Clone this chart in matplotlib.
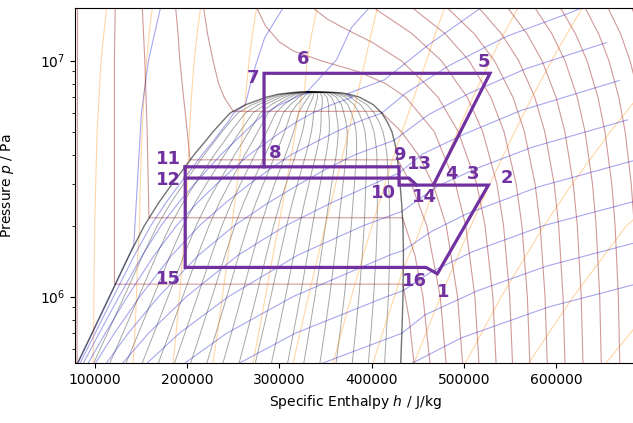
import numpy as np
import matplotlib.pyplot as plt

# ---------------- CO2 saturation dome ----------------
# pressure in MPa, enthalpy in kJ/kg, entropy in kJ/kgK, density in kg/m3
sat_p = [0.518, 0.7, 1.0, 1.5, 2.0, 2.5, 3.0, 3.5, 4.0, 4.5, 5.0, 5.5, 6.0, 6.5, 7.0, 7.2, 7.3, 7.35, 7.377]
sat_hl = [80.5, 96.6, 115.5, 137, 153.5, 169, 183.5, 196.5, 207.5, 218.5, 228, 237.5, 246.5, 263, 285.7, 298, 310, 318, 330]
sat_hv = [431.5, 432.8, 434, 434.5, 434, 432.5, 430.8, 429, 427.7, 425, 422, 417, 411, 402, 387, 376, 368, 355, 330]
sat_sl = [0.52, 0.592, 0.674, 0.762, 0.826, 0.884, 0.937, 0.983, 1.021, 1.058, 1.089, 1.12, 1.148, 1.201, 1.274, 1.314, 1.353, 1.379, 1.418]
sat_sv = [2.14, 2.094, 2.04, 1.978, 1.932, 1.893, 1.861, 1.834, 1.812, 1.787, 1.764, 1.736, 1.705, 1.667, 1.61, 1.571, 1.544, 1.501, 1.418]
sat_rhol = [1178, 1152, 1117, 1074, 1030, 992, 955, 926, 895, 862, 830, 795, 750, 705, 640, 596, 565, 530, 467.6]
sat_rhov = [13.8, 18.2, 26.0, 39.0, 53.0, 68, 83, 98, 114, 135, 156, 180, 210, 246, 300, 334, 365, 405, 467.6]

quality_levels = [0.05, 0.1, 0.15, 0.2, 0.25, 0.3, 0.35, 0.4, 0.45, 0.5,
                  0.55, 0.6, 0.65, 0.7, 0.75, 0.8, 0.85, 0.9, 0.95]

# ---------------- isotherms 216 K ... 536 K (step 20 K) ----------------
isotherm_h = [
    [81, 80.5],
    [122, 121, 121, 434, 440.8, 446.5],
    [151, 154, 156.5, 158.5, 433.5, 446.9, 455.7, 463.8],
    [187, 190, 192, 196, 200, 203, 428.2, 443, 459.8, 474.4, 481.2],
    [217, 222, 228, 234, 240, 249.8, 409.5, 432.3, 450.4, 466.6, 480.9, 493.2, 499],
    [273, 285, 300, 315, 345, 385, 415, 437, 468, 491, 502, 512, 516.7],
    [330, 352, 366, 382, 400, 432, 458, 472, 494, 514, 523, 531.5, 535.2],
    [395, 444, 475.6, 503.7, 520.5, 535.9, 543.1, 549.8, 553],
    [438, 479.8, 505.7, 529.3, 543.6, 556.8, 563, 568.9, 571.8],
    [477, 511.3, 533.2, 553.3, 565.7, 577.3, 582.8, 588.1, 590.7],
    [512, 540.8, 559.5, 576.9, 587.8, 598, 602.9, 607.6, 609.9],
    [544, 568.5, 584.8, 600, 609.6, 618.7, 623.1, 627.3, 629.4],
    [574, 595.5, 609.7, 623, 631.5, 639.6, 643.5, 647.4, 649.2],
    [602, 621.1, 633.6, 645.5, 653.1, 660.5, 664.1, 667.6, 669.3],
    [629, 646.2, 657.4, 668.1, 675, 681.6, 684.9, 688.1, 689.7],
    [654, 670, 680.3, 690.2, 696.5],
    [680, 694, 703.4],
]
isotherm_p = [
    [17.5, 0.518],
    [17.5, 10, 1.13, 1.13, 0.8, 0.5],
    [17.5, 10, 5, 2.16, 2.16, 1.5, 1.0, 0.5],
    [17.5, 13, 10, 7, 5, 3.8, 3.8, 3.0, 2.0, 1.0, 0.5],
    [17.5, 13, 10, 8, 7, 6.1, 6.1, 5, 4, 3, 2, 1, 0.5],
    [17.5, 14, 12, 11, 10, 9, 8, 7, 5, 3, 2, 1, 0.5],
    [17.5, 15, 14, 13, 12, 10, 8, 7, 5, 3, 2, 1, 0.5],
    [17.5, 13, 10, 7, 5, 3, 2, 1, 0.5],
    [17.5, 13, 10, 7, 5, 3, 2, 1, 0.5],
    [17.5, 13, 10, 7, 5, 3, 2, 1, 0.5],
    [17.5, 13, 10, 7, 5, 3, 2, 1, 0.5],
    [17.5, 13, 10, 7, 5, 3, 2, 1, 0.5],
    [17.5, 13, 10, 7, 5, 3, 2, 1, 0.5],
    [17.5, 13, 10, 7, 5, 3, 2, 1, 0.5],
    [17.5, 13, 10, 7, 5, 3, 2, 1, 0.5],
    [17.5, 13, 10, 7, 5],
    [17.5, 13, 10],
]

# ---------------- isentropes (part outside the dome) ----------------
s_levels = [0.6, 0.8, 1.0, 1.2, 1.4, 1.6, 1.8, 2.0, 2.2, 2.4, 2.6, 2.8]
isentrope_h = [
    [113, 106.5, 102.2, 99.6, 98.7, 98.5],
    [162.8, 158.6, 155.8, 153, 151, 149, 148],
    [215.2, 210.7, 207.6, 204.5, 202.4, 201],
    [276, 270.8, 267, 263.2, 262.7],
    [342, 335, 330, 327],
    [407.5, 399.5, 393, 384],
    [481, 469, 459.5, 451, 440, 426.4],
    [561.4, 538.6, 522, 502, 488, 469, 450, 434.3],
    [631.6, 611.8, 595.2, 574, 555.2, 528.2, 507.7, 474.7, 444],
    [688.8, 659, 617.5, 587, 540.6, 499],
    [700, 676.4, 618.7, 567],
    [713, 650],
]
isentrope_p = [
    [17.5, 10, 5, 2, 1, 0.73],
    [17.5, 13, 10, 7, 5, 3, 1.83],
    [17.5, 13, 10, 7, 5, 3.7],
    [17.5, 13, 10, 7, 6.49],
    [17.5, 13, 10, 7.36],
    [17.5, 13, 10, 7.05],
    [17.5, 13, 10, 8, 6, 4.24],
    [17.5, 12, 8.87, 6, 4.5, 3.0, 1.8, 1.32],
    [17.5, 13, 10, 7, 5, 3, 2, 1, 0.5],
    [7, 5, 3, 2, 1, 0.5],
    [2.4, 2, 1, 0.5],
    [1, 0.5],
]

# ---------------- isochores (part outside the dome) ----------------
rho_levels = [12.2, 18.3, 27.5, 41, 62, 93, 139, 209, 313, 470, 705, 1058]
isochore_h = [
    [691.6, 592.5, 496.9, 443, 441],
    [689.9, 590, 515, 458.3, 432.8],
    [687.2, 586.6, 510.3, 464.7, 434],
    [683.4, 581.5, 503.3, 465.8, 434.4],
    [677.4, 573.6, 514, 471.5, 433.1],
    [668.5, 562.2, 501.2, 454.9, 429.6],
    [654.4, 567.6, 506.8, 462, 424.4],
    [640, 614, 546.5, 484, 438, 411],
    [535, 520, 462, 414, 373],
    [401, 378, 362, 330],
    [307, 284, 272, 263],
    [172.1, 157.9, 150.3, 142],
]
isochore_p = [
    [1.143, 0.906, 0.668, 0.52, 0.5],
    [1.708, 1.348, 1.06, 0.8386, 0.70],
    [2.548, 2.0, 1.556, 1.274, 1.06],
    [3.764, 2.925, 2.245, 1.898, 1.57],
    [5.61, 4.291, 3.496, 2.941, 2.3],
    [8.24, 6.155, 4.898, 4.016, 3.34],
    [11.92, 9.25, 7.30, 5.915, 4.6],
    [17.5, 15.9, 12.68, 9.53, 7.33, 6.0],
    [18.0, 16.9, 11.7, 8.3, 7.23],
    [17.4, 13.8, 10.1, 7.377],
    [17.5, 12.5, 9, 6.5],
    [17.5, 10, 6, 1.65],
]

# ---------------- refrigeration cycle (J/kg, Pa) ----------------
loop_h = [197800, 429700, 429700, 526600, 471300, 459000, 197800, 197800]
loop_p = [3.55e6, 3.55e6, 2.97e6, 2.97e6, 1.25e6, 1.33e6, 1.33e6, 3.55e6]
mid_h = [197800, 440600, 448700]
mid_p = [3.18e6, 3.18e6, 2.97e6]
high_h = [466900, 528400, 283300, 283300]
high_p = [2.97e6, 8.84e6, 8.84e6, 3.55e6]

labels = ['1', '2', '3', '4', '5', '6', '7', '8', '9', '10', '11', '12', '13', '14', '15', '16']
label_h = [477800, 546500, 509700, 486900, 522200, 325600, 271700, 295200,
           429700, 412700, 179500, 179500, 451400, 456800, 179500, 446300]
label_p = [1.05e6, 3.176e6, 3.311e6, 3.311e6, 9.9e6, 1.014e7, 8.42e6, 4.052e6,
           3.986e6, 2.742e6, 3.821e6, 3.123e6, 3.639e6, 2.653e6, 1.185e6, 1.165e6]

purple = '#7030a0'

# ---------------- helpers ----------------
P = np.array(sat_p) * 1e6
HL = np.array(sat_hl) * 1e3
HV = np.array(sat_hv) * 1e3


def lever(value, lo, hi, p_top):
    # two-phase part of an isoline, below p_top
    lo = np.asarray(lo, dtype=float)
    hi = np.asarray(hi, dtype=float)
    inside = (P < p_top) & ((value - lo) * (value - hi) <= 0) & (lo != hi)
    x = (value - lo[inside]) / (hi[inside] - lo[inside])
    h = HL[inside] + x * (HV[inside] - HL[inside])
    return h[::-1], P[inside][::-1]


fig = plt.figure(figsize=(6.33, 4.23), dpi=100)
ax = fig.add_axes([0.119, 0.1407, 0.8858, 0.8404])
ax.set_yscale('log')

# quality lines
for q in quality_levels:
    ax.plot(HL + q * (HV - HL), P, color='black', lw=0.7, alpha=0.35, zorder=1)

# isotherms
for hs, ps in zip(isotherm_h, isotherm_p):
    ax.plot(np.array(hs) * 1e3, np.array(ps) * 1e6, color='darkred', lw=0.8, alpha=0.4, zorder=1)

# isentropes
for s, hs, ps in zip(s_levels, isentrope_h, isentrope_p):
    h_in, p_in = lever(s, sat_sl, sat_sv, ps[-1] * 1e6 - 1)
    ax.plot(np.r_[np.array(hs) * 1e3, h_in], np.r_[np.array(ps) * 1e6, p_in],
            color='darkorange', lw=0.8, alpha=0.35, zorder=1)

# isochores
for rho, hs, ps in zip(rho_levels, isochore_h, isochore_p):
    h_in, p_in = lever(1 / rho, 1 / np.array(sat_rhol), 1 / np.array(sat_rhov), ps[-1] * 1e6 - 1)
    ax.plot(np.r_[np.array(hs) * 1e3, h_in], np.r_[np.array(ps) * 1e6, p_in],
            color='mediumblue', lw=0.8, alpha=0.35, zorder=1)

# saturation dome
ax.plot(np.r_[HL, HV[::-1]], np.r_[P, P[::-1]], color='black', lw=1.0, alpha=0.55, zorder=2)

# cycle
for hs, ps in [(loop_h, loop_p), (mid_h, mid_p), (high_h, high_p)]:
    ax.plot(hs, ps, color=purple, lw=2.3, solid_joinstyle='miter', zorder=3)
for t, h, p in zip(labels, label_h, label_p):
    ax.text(h, p, t, color=purple, fontsize=13, fontweight='bold',
            ha='center', va='center', zorder=4)

ax.set_xlim(78600, 686800)
ax.set_ylim(5.21e5, 1.672e7)
ax.set_xticks([100000, 200000, 300000, 400000, 500000, 600000])
ax.ticklabel_format(style='plain', axis='x')
ax.tick_params(labelsize=10)
ax.set_xlabel('Specific Enthalpy $h$ / J/kg', fontsize=10)
ax.set_ylabel('Pressure $p$ / Pa', fontsize=10)
ax.yaxis.set_label_coords(-0.105, 0.5)

fig.savefig('out.png', dpi=100)
